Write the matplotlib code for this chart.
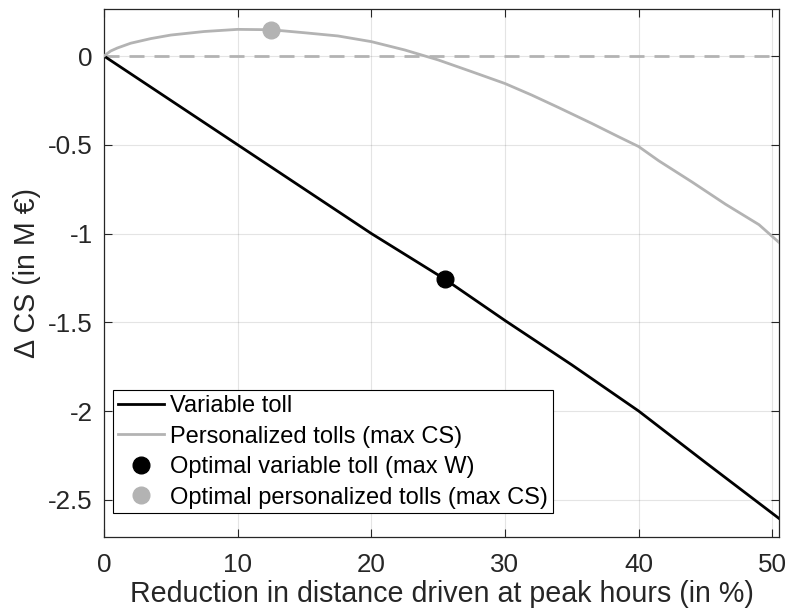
import matplotlib
matplotlib.use("Agg")
import matplotlib.pyplot as plt

plt.rcParams['font.family'] = ['Liberation Sans', 'DejaVu Sans']

# Data
x_var = [0, 10, 20, 25.5, 30, 35, 40, 45, 50.5]
y_var = [0, -0.5, -1.0, -1.257, -1.49, -1.74, -2.0, -2.29, -2.605]

x_pers = [0, 0.5, 1, 2, 3.5, 5, 7.5, 10, 12.5, 15, 17.5, 20, 22.5, 25, 27.5, 30,
          32, 34, 36.5, 38.5, 40, 41.5, 44, 46.5, 49, 50.5]
y_pers = [0, 0.028, 0.045, 0.072, 0.098, 0.118, 0.138, 0.150, 0.148, 0.131, 0.113,
          0.081, 0.034, -0.022, -0.088, -0.155, -0.22, -0.29, -0.38, -0.455,
          -0.51, -0.59, -0.71, -0.835, -0.95, -1.05]

opt_var = (25.5, -1.257)
opt_pers = (12.5, 0.148)

xlim = (0, 50.5)
ylim = (-2.708, 0.263)
xticks = [0, 10, 20, 30, 40, 50]
yticks = [-2.5, -2, -1.5, -1, -0.5, 0]
ytick_labels = ['-2.5', '-2', '-1.5', '-1', '-0.5', '0']

gray = '#b3b3b3'
axc = '#262626'

fig = plt.figure(figsize=(7.87, 6.13), dpi=100)
ax = fig.add_axes([0.1321, 0.1245, 0.8577, 0.8603])

ax.plot(xlim, [0, 0], color=gray, lw=2, linestyle=(0, (5.4, 3.6)), zorder=2)
l1, = ax.plot(x_var, y_var, color='black', lw=2, zorder=3, label='Variable toll')
l2, = ax.plot(x_pers, y_pers, color=gray, lw=2, zorder=3, label='Personalized tolls (max CS)')
m1, = ax.plot([opt_var[0]], [opt_var[1]], 'o', color='black', ms=12, zorder=4,
              label='Optimal variable toll (max W)')
m2, = ax.plot([opt_pers[0]], [opt_pers[1]], 'o', color=gray, ms=12, zorder=4,
              label='Optimal personalized tolls (max CS)')

ax.set_xlim(*xlim)
ax.set_ylim(*ylim)
ax.set_xticks(xticks)
ax.set_yticks(yticks)
ax.set_yticklabels(ytick_labels)
ax.grid(True, color='#262626', alpha=0.12, lw=0.8)
ax.set_axisbelow(True)
ax.tick_params(direction='in', top=True, right=True, length=6, width=0.8,
               colors=axc, labelsize=18.7)
ax.tick_params(axis='x', pad=12)
ax.tick_params(axis='y', pad=8)
for s in ax.spines.values():
    s.set_color(axc)
    s.set_linewidth(0.9)

ax.set_xlabel('Reduction in distance driven at peak hours (in %)', fontsize=20.6, color=axc, labelpad=2)
ax.set_ylabel('Δ CS (in M €)', fontsize=20.6, color=axc, labelpad=5)

leg = ax.legend(handles=[l1, l2, m1, m2], loc='lower left',
                bbox_to_anchor=(0.0138, 0.0444), borderaxespad=0,
                fontsize=17, frameon=True, fancybox=False, framealpha=1,
                edgecolor='black', handlelength=1.95, handletextpad=0.25,
                labelspacing=0.36, borderpad=0.2)
leg.get_frame().set_linewidth(0.8)

fig.savefig('out.png', dpi=100)
